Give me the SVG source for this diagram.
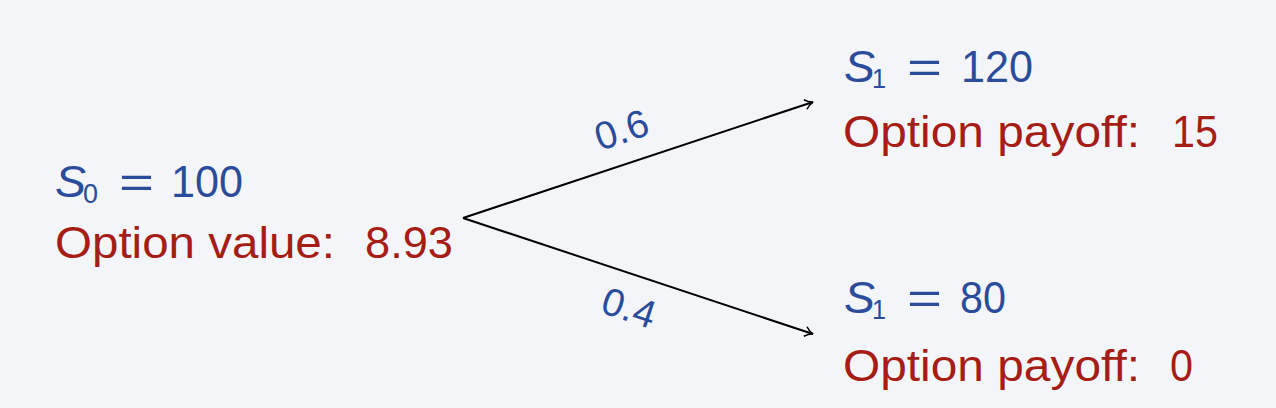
<svg xmlns="http://www.w3.org/2000/svg" width="1276" height="408" viewBox="0 0 1276 408">
<defs>
<style>
text{font-family:"Liberation Sans",Arial,sans-serif}
.b{fill:#2b4c9b;font-size:45px}
.r{fill:#a51d15;font-size:44px}
.sub{fill:#2b4c9b;font-size:27px}
.p{fill:#2b4c9b;font-size:39px}
.e{stroke:#000;stroke-width:2;fill:none;marker-end:url(#ah)}
</style>
<marker id="ah" viewBox="0 0 12 12" refX="10" refY="6" markerWidth="12" markerHeight="12" markerUnits="userSpaceOnUse" orient="auto">
<path d="M2,1 Q6,5 10,6 Q6,7 2,11" fill="none" stroke="#000" stroke-width="1.6"/>
</marker>
</defs>
<rect width="1276" height="408" fill="#f4f5f9"/>
<g id="connectors">
<line class="e" x1="463" y1="218" x2="813" y2="102"/>
<line class="e" x1="463" y1="218" x2="813" y2="334"/>
<text class="p" transform="translate(600,151) rotate(-18.3)">0.6</text>
<text class="p" transform="translate(599,312) rotate(18.3)">0.4</text>
</g>
<g id="root">
<text class="b" x="55" y="197" font-style="italic" textLength="31" lengthAdjust="spacingAndGlyphs">S</text>
<text class="sub" x="83" y="203" textLength="15" lengthAdjust="spacingAndGlyphs">0</text>
<text class="b" x="119" y="197" textLength="35" lengthAdjust="spacingAndGlyphs">=</text>
<text class="b" x="171" y="197" textLength="72" lengthAdjust="spacingAndGlyphs">100</text>
<text class="r" x="55" y="258" textLength="280" lengthAdjust="spacingAndGlyphs">Option value:</text>
<text class="r" x="365" y="258" textLength="88" lengthAdjust="spacingAndGlyphs">8.93</text>
</g>
<g id="up">
<text class="b" x="844" y="82" font-style="italic" textLength="31" lengthAdjust="spacingAndGlyphs">S</text>
<text class="sub" x="872" y="88" textLength="14" lengthAdjust="spacingAndGlyphs">1</text>
<text class="b" x="907" y="82" textLength="35" lengthAdjust="spacingAndGlyphs">=</text>
<text class="b" x="961" y="82" textLength="72" lengthAdjust="spacingAndGlyphs">120</text>
<text class="r" x="843" y="147" textLength="297" lengthAdjust="spacingAndGlyphs">Option payoff:</text>
<text class="r" x="1172" y="147" textLength="46" lengthAdjust="spacingAndGlyphs">15</text>
</g>
<g id="down">
<text class="b" x="844" y="313" font-style="italic" textLength="31" lengthAdjust="spacingAndGlyphs">S</text>
<text class="sub" x="872" y="319" textLength="14" lengthAdjust="spacingAndGlyphs">1</text>
<text class="b" x="907" y="313" textLength="35" lengthAdjust="spacingAndGlyphs">=</text>
<text class="b" x="960" y="313" textLength="46" lengthAdjust="spacingAndGlyphs">80</text>
<text class="r" x="843" y="381" textLength="297" lengthAdjust="spacingAndGlyphs">Option payoff:</text>
<text class="r" x="1170" y="381" textLength="23" lengthAdjust="spacingAndGlyphs">0</text>
</g>
</svg>
